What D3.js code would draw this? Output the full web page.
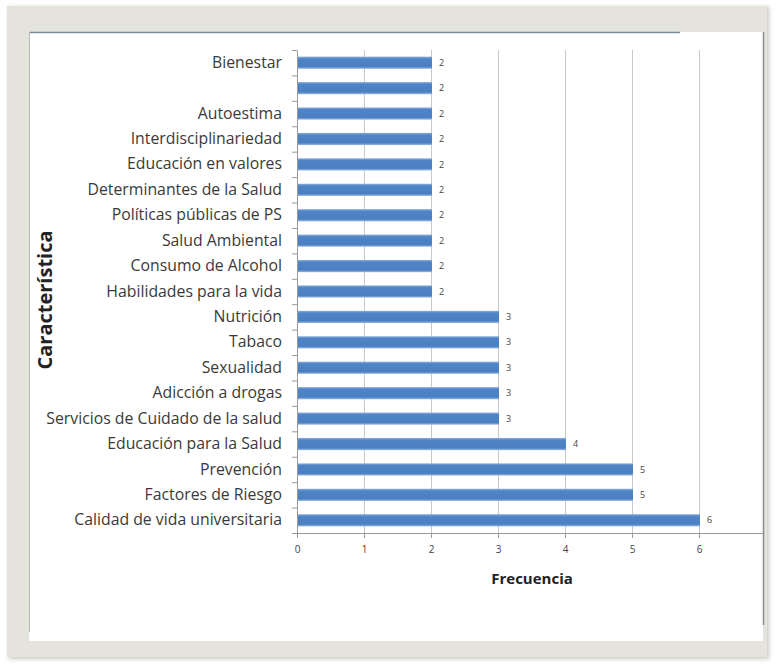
<!DOCTYPE html>
<html lang="es">
<meta charset="utf-8">
<style>
  body { margin: 0; background: #fff; }
  text { font-family: "Open Sans", sans-serif; fill: #222; }
  .grid line { stroke: #c8c8c8; }
</style>
<script src="https://d3js.org/d3.v7.min.js"></script>
<body>
<div id="chart"></div>
<script>
// categories, top to bottom as shown
const categories = [
  "Bienestar", "", "Autoestima", "Interdisciplinariedad", "Educación en valores",
  "Determinantes de la Salud", "Políticas públicas de PS", "Salud Ambiental",
  "Consumo de Alcohol", "Habilidades para la vida", "Nutrición", "Tabaco",
  "Sexualidad", "Adicción a drogas", "Servicios de Cuidado de la salud ",
  "Educación para la Salud", "Prevención", "Factores de Riesgo",
  "Calidad de vida universitaria"
]
const frecuencia = [2, 2, 2, 2, 2, 2, 2, 2, 2, 2, 3, 3, 3, 3, 3, 4, 5, 5, 6]
const xTicks = [0, 1, 2, 3, 4, 5, 6, 7]
const xTickLabels = ["0", "1", "2", "3", "4", "5", "6", ""]

const W = 777, H = 664
const MARGIN = { LEFT: 297, TOP: 50 }
const WIDTH = 469
const HEIGHT = 483

const svg = d3.select("#chart").append("svg")
  .attr("width", W).attr("height", H)

// frame like in the screenshot
const defs = svg.append("defs")
const sh = defs.append("filter").attr("id", "sh").attr("x", "-5%").attr("y", "-5%").attr("width", "110%").attr("height", "110%")
sh.append("feGaussianBlur").attr("stdDeviation", 2)
defs.append("clipPath").attr("id", "panel")
  .append("rect").attr("x", 29).attr("y", 32).attr("width", 734).attr("height", 609)

svg.append("rect").attr("x", 9).attr("y", 7).attr("width", 760).attr("height", 652)
  .attr("fill", "#c9c8c0").attr("filter", "url(#sh)")
svg.append("rect").attr("x", 7).attr("y", 6).attr("width", 760).attr("height", 651)
  .attr("fill", "#e4e3dc")
svg.append("rect").attr("x", 29).attr("y", 32).attr("width", 734).attr("height", 609)
  .attr("fill", "#fff")
svg.append("line").attr("x1", 30).attr("x2", 680).attr("y1", 32.5).attr("y2", 32.5)
  .attr("stroke", "#7f8c97").attr("stroke-width", 1.5)
svg.append("line").attr("x1", 29.5).attr("x2", 29.5).attr("y1", 32).attr("y2", 632)
  .attr("stroke", "#b8b8b4")
svg.append("line").attr("x1", 763.5).attr("x2", 763.5).attr("y1", 32).attr("y2", 625)
  .attr("stroke", "#8c8c8c").attr("stroke-width", 1.5)

const g = svg.append("g")
  .attr("clip-path", "url(#panel)")
  .append("g")
  .attr("transform", `translate(${MARGIN.LEFT}, ${MARGIN.TOP})`)

const x = d3.scaleLinear().domain([0, 7]).range([0, WIDTH])
const y = d3.scaleBand().domain(categories.map((c, i) => i)).range([0, HEIGHT]).paddingInner(0.52).paddingOuter(0.26)

// gridlines
g.append("g").attr("class", "grid")
  .selectAll("line").data(xTicks.slice(1)).join("line")
  .attr("x1", d => x(d) + 0.5).attr("x2", d => x(d) + 0.5)
  .attr("y1", 0).attr("y2", HEIGHT)

// bars
const grad = defs.append("linearGradient").attr("id", "barg").attr("x1", 0).attr("x2", 0).attr("y1", 0).attr("y2", 1)
grad.append("stop").attr("offset", "0%").attr("stop-color", "#8fb0dc")
grad.append("stop").attr("offset", "18%").attr("stop-color", "#4f84c6")
grad.append("stop").attr("offset", "82%").attr("stop-color", "#4a80c2")
grad.append("stop").attr("offset", "100%").attr("stop-color", "#9ab8df")

g.selectAll(".bar").data(frecuencia).join("rect")
  .attr("class", "bar")
  .attr("x", x(0) + 1)
  .attr("y", (d, i) => y(i))
  .attr("width", d => x(d) - x(0))
  .attr("height", y.bandwidth())
  .attr("fill", "url(#barg)")

// value labels
g.selectAll(".val").data(frecuencia).join("text")
  .attr("class", "val")
  .attr("x", d => x(d) + 8)
  .attr("y", (d, i) => y(i) + y.bandwidth() / 2)
  .attr("dy", "0.35em")
  .style("font-size", "9px")
  .style("fill", "#444")
  .text(d => d)

// x axis
const xAxis = g.append("g")
  .attr("transform", `translate(0, ${HEIGHT})`)
  .call(d3.axisBottom(x).tickValues(xTicks).tickFormat((d, i) => xTickLabels[i]).tickSize(5).tickPadding(8))
xAxis.select(".domain").attr("stroke", "#999")
xAxis.selectAll(".tick line").attr("stroke", "#999")
xAxis.selectAll("text").style("font-size", "10px").style("fill", "#444")

// y axis
const yAxis = g.append("g")
  .call(d3.axisLeft(y).tickFormat(i => categories[i]).tickSize(0).tickPadding(15))
yAxis.select(".domain").attr("stroke", "#999")
yAxis.selectAll("text").style("font-size", "15.8px").style("fill", "#3a3a3a")
// ticks between categories
const step = y.step()
g.append("g").selectAll("line").data(d3.range(categories.length + 1)).join("line")
  .attr("x1", -5).attr("x2", 0)
  .attr("y1", i => y.paddingOuter() * step - y.paddingInner() * step / 2 + i * step + 0.5)
  .attr("y2", i => y.paddingOuter() * step - y.paddingInner() * step / 2 + i * step + 0.5)
  .attr("stroke", "#999")

// axis titles
svg.append("text")
  .attr("transform", "translate(52, 300) rotate(-90)")
  .attr("text-anchor", "middle")
  .style("font-size", "20px").style("font-weight", "bold")
  .text("Característica")

svg.append("text")
  .attr("x", 532).attr("y", 584)
  .attr("text-anchor", "middle")
  .style("font-size", "15px").style("font-weight", "bold")
  .text("Frecuencia")
</script>
</body>
</html>
